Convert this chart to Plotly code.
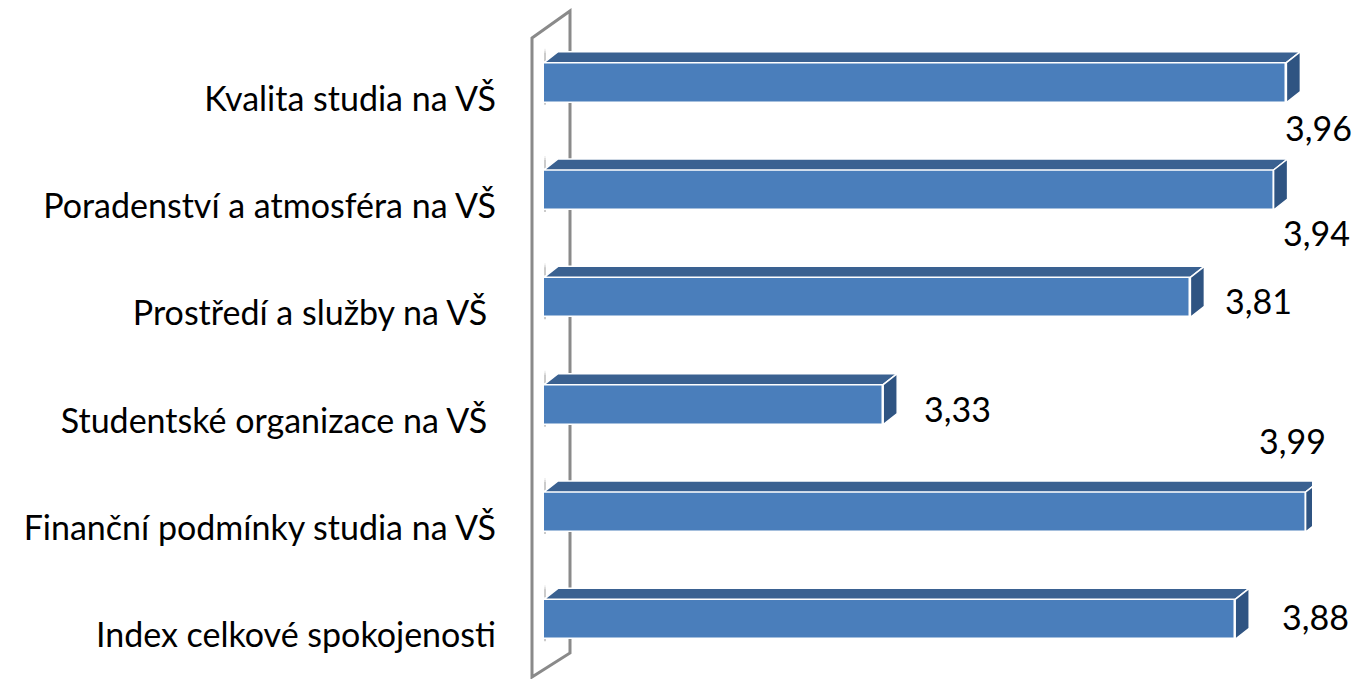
import plotly.graph_objects as go

categories = [
    "Kvalita studia na VŠ",
    "Poradenství a atmosféra na VŠ",
    "Prostředí a služby na VŠ\u00a0",
    "Studentské organizace na VŠ\u00a0",
    "Finanční podmínky studia na VŠ",
    "Index celkové spokojenosti",
]
values = [3.96, 3.94, 3.81, 3.33, 3.99, 3.88]
value_labels = ["3,96", "3,94", "3,81", "3,33", "3,99", "3,88"]
# label offsets (pixels) as placed in the original chart
label_dx = [32, 43, 68, 74, -13, 80]
label_dy = [-45, -42, -3, -4, 72, 3]

X_MIN, X_MAX = 2.8, 4.0
W, H = 1353, 679
ML, MR, MT, MB = 544, 41, 29, 6
PPU = (W - ML - MR) / (X_MAX - X_MIN)
DEPTH_PX, DEPTH_PY = 14, 11
DX = DEPTH_PX / PPU
HALF = 20

FRONT = "#4a7ebb"
TOP = "#3a6191"
SIDE = "#2f5482"
FONT = "Lato"
FS = 34

ypos = list(range(len(categories)))

fig = go.Figure()
fig.add_trace(go.Bar(
    x=[v - X_MIN for v in values], base=X_MIN, y=ypos, orientation="h",
    width=0.373, marker=dict(color=FRONT, line=dict(color="white", width=1.5)),
    hoverinfo="skip", showlegend=False,
))

shapes = []
# wall
shapes.append(dict(
    type="path", xref="paper", yref="paper", xsizemode="pixel", ysizemode="pixel",
    xanchor=0, yanchor=0,
    path="M -12,635 L 26,662 L 26,20 L -12,-4 Z",
    line=dict(color="#8a8a8a", width=3), fillcolor="rgba(255,255,255,0)", layer="below",
))
for i, v in enumerate(values):
    # soft shadow on the wall
    for k, a in enumerate([0.05, 0.07, 0.09]):
        shapes.append(dict(
            type="path", ysizemode="pixel", yanchor=i,
            path=f"M {X_MIN - (10 - 3*k)/PPU},{HALF + 14 - 2*k} L {X_MIN + 2/PPU},{HALF + 14 - 2*k} "
                 f"L {X_MIN + 2/PPU},{-HALF - 2} L {X_MIN - (10 - 3*k)/PPU},{-HALF - 2} Z",
            line=dict(width=0), fillcolor=f"rgba(0,0,0,{a})", layer="below",
        ))
    shapes.append(dict(
        type="path", ysizemode="pixel", yanchor=i,
        path=f"M {X_MIN},{HALF} L {X_MIN + DX},{HALF + DEPTH_PY} L {v + DX},{HALF + DEPTH_PY} L {v},{HALF} Z",
        line=dict(color="white", width=1.5), fillcolor=TOP, layer="above",
    ))
    shapes.append(dict(
        type="path", ysizemode="pixel", yanchor=i,
        path=f"M {v},{HALF} L {v + DX},{HALF + DEPTH_PY} L {v + DX},{-HALF + DEPTH_PY} L {v},{-HALF} Z",
        line=dict(color="white", width=1.5), fillcolor=SIDE, layer="above",
    ))

annotations = []
for i, (v, t) in enumerate(zip(values, value_labels)):
    annotations.append(dict(
        x=v, y=i, text=t, showarrow=False, xshift=label_dx[i], yshift=label_dy[i],
        font=dict(family=FONT, size=FS, color="black"),
    ))

fig.update_layout(
    width=W, height=H, margin=dict(l=ML, r=MR, t=MT, b=MB),
    paper_bgcolor="white", plot_bgcolor="white",
    shapes=shapes, annotations=annotations, bargap=0,
    xaxis=dict(range=[X_MIN, X_MAX], visible=False, fixedrange=True),
    yaxis=dict(range=[5.5, -0.5], tickvals=ypos, ticktext=categories,
               showgrid=False, zeroline=False, showline=False, ticks="",
               ticklabelstandoff=47, ticklabelshift=-16, fixedrange=True,
               tickfont=dict(family=FONT, size=FS, color="black")),
    font=dict(family=FONT),
)

fig.write_html("out.html", config={"displayModeBar": False},
               post_script="document.body.style.margin='0';")
